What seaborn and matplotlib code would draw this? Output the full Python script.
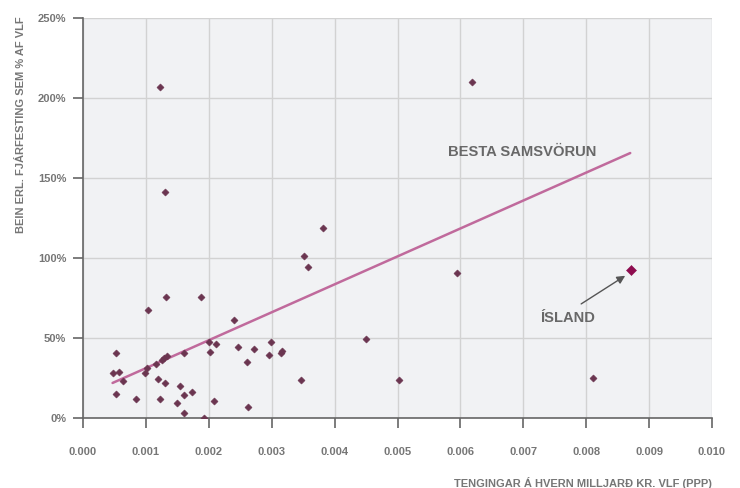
import matplotlib
matplotlib.use("Agg")
import matplotlib.pyplot as plt
import seaborn as sns
import pandas as pd
import numpy as np

# --- data ---
conn_per_bn = [0.000525, 0.00048, 0.000567, 0.00063, 0.000525, 0.000838, 0.001028, 0.00099,
               0.00101, 0.00132, 0.00187, 0.0024, 0.001156, 0.00125, 0.00128, 0.00133,
               0.0016, 0.002, 0.00211, 0.00202, 0.00246, 0.00119, 0.00131, 0.00155,
               0.00173, 0.0016, 0.00123, 0.0015, 0.0016, 0.00193, 0.00209, 0.00351,
               0.00358, 0.00272, 0.00299, 0.00296, 0.00314, 0.00316, 0.00261, 0.00347,
               0.0045, 0.00263, 0.001224, 0.0013, 0.00381, 0.00618, 0.00595, 0.00502,
               0.00811]
invest_pct = [40.6, 27.9, 28.5, 22.9, 15.2, 11.7, 67.5, 28.3,
              31.0, 75.4, 75.4, 61.0, 33.5, 36.3, 37.7, 38.8,
              40.6, 47.5, 46.0, 41.0, 44.4, 24.2, 21.7, 20.2,
              16.1, 14.2, 12.1, 9.4, 3.3, 0.0, 10.4, 101.3,
              94.2, 43.1, 47.5, 39.2, 40.4, 41.9, 34.8, 23.6,
              49.2, 6.7, 206.9, 141.4, 118.5, 210.0, 90.4, 23.5,
              24.8]
iceland_x = [0.00871]
iceland_y = [92.3]
trend_x = [0.00047, 0.0087]
trend_y = [21.9, 165.6]
x_ticks = [0.000, 0.001, 0.002, 0.003, 0.004, 0.005, 0.006, 0.007, 0.008, 0.009, 0.010]
y_ticks = [0, 50, 100, 150, 200, 250]

x_label = "TENGINGAR Á HVERN MILLJARÐ KR. VLF (PPP)"
y_label = "BEIN ERL. FJÁRFESTING SEM % AF VLF"
trend_label = "BESTA SAMSVÖRUN"
iceland_label = "ÍSLAND"

sns.set_theme(style="white")
plt.rcParams['font.family'] = ['Liberation Sans', 'DejaVu Sans']

text_gray = "#767676"
spine_gray = "#666666"

fig = plt.figure(figsize=(7.4, 4.88), dpi=100)
ax = fig.add_axes([83/740, 70/488, 629/740, 400/488])
ax.set_facecolor("#f1f2f4")

df = pd.DataFrame({"x": conn_per_bn, "y": invest_pct})
sns.scatterplot(data=df, x="x", y="y", ax=ax, marker="D", s=13,
                color="#6b3550", edgecolor="#6b3550", linewidth=0.4, zorder=3)

tdf = pd.DataFrame({"x": trend_x, "y": trend_y})
sns.lineplot(data=tdf, x="x", y="y", ax=ax, color="#c06a9c", linewidth=1.8, zorder=2)

idf = pd.DataFrame({"x": iceland_x, "y": iceland_y})
sns.scatterplot(data=idf, x="x", y="y", ax=ax, marker="D", s=26,
                color="#8e0c4f", edgecolor="#8e0c4f", linewidth=0.4, zorder=4)

ax.set_xlim(0, 0.010)
ax.set_ylim(0, 250)
ax.set_xticks(x_ticks)
ax.set_xticklabels([f"{v:.3f}" for v in x_ticks])
ax.set_yticks(y_ticks)
ax.set_yticklabels([f"{v}%" for v in y_ticks])

ax.grid(True, color="#d2d2d2", linewidth=1.0, zorder=0)
ax.set_axisbelow(True)
for s in ["top", "right"]:
    ax.spines[s].set_visible(False)
for s in ["left", "bottom"]:
    ax.spines[s].set_color(spine_gray)
    ax.spines[s].set_linewidth(1.2)

ax.tick_params(axis="x", bottom=True, direction="out", length=7, width=1.2, color=spine_gray,
               pad=14, labelsize=8, labelcolor=text_gray)
ax.tick_params(axis="y", left=True, direction="out", length=7, width=1.2, color=spine_gray,
               pad=5, labelsize=8, labelcolor=text_gray)
for lab in ax.get_xticklabels() + ax.get_yticklabels():
    lab.set_fontweight("bold")

ax.set_xlabel("")
ax.set_ylabel("")
fig.text(712/740, 1 - 483/488, x_label, ha="right", va="center",
         fontsize=8, fontweight="bold", color=text_gray)
fig.text(21/740, 1 - 16/488, y_label, ha="center", va="top", rotation=90,
         fontsize=8, fontweight="bold", color=text_gray)

ax.text(0.0058, 166, trend_label, ha="left", va="center", fontsize=10.6,
        fontweight="bold", color="#686868")
ax.text(0.00727, 62.6, iceland_label, ha="left", va="center", fontsize=10.6,
        fontweight="bold", color="#686868")
ax.annotate("", xy=(0.00862, 88.9), xytext=(0.00792, 71.3),
            arrowprops=dict(arrowstyle="-|>", color="#555555", lw=1.0,
                            mutation_scale=12, shrinkA=0, shrinkB=0))

fig.savefig("out.png", dpi=100)
